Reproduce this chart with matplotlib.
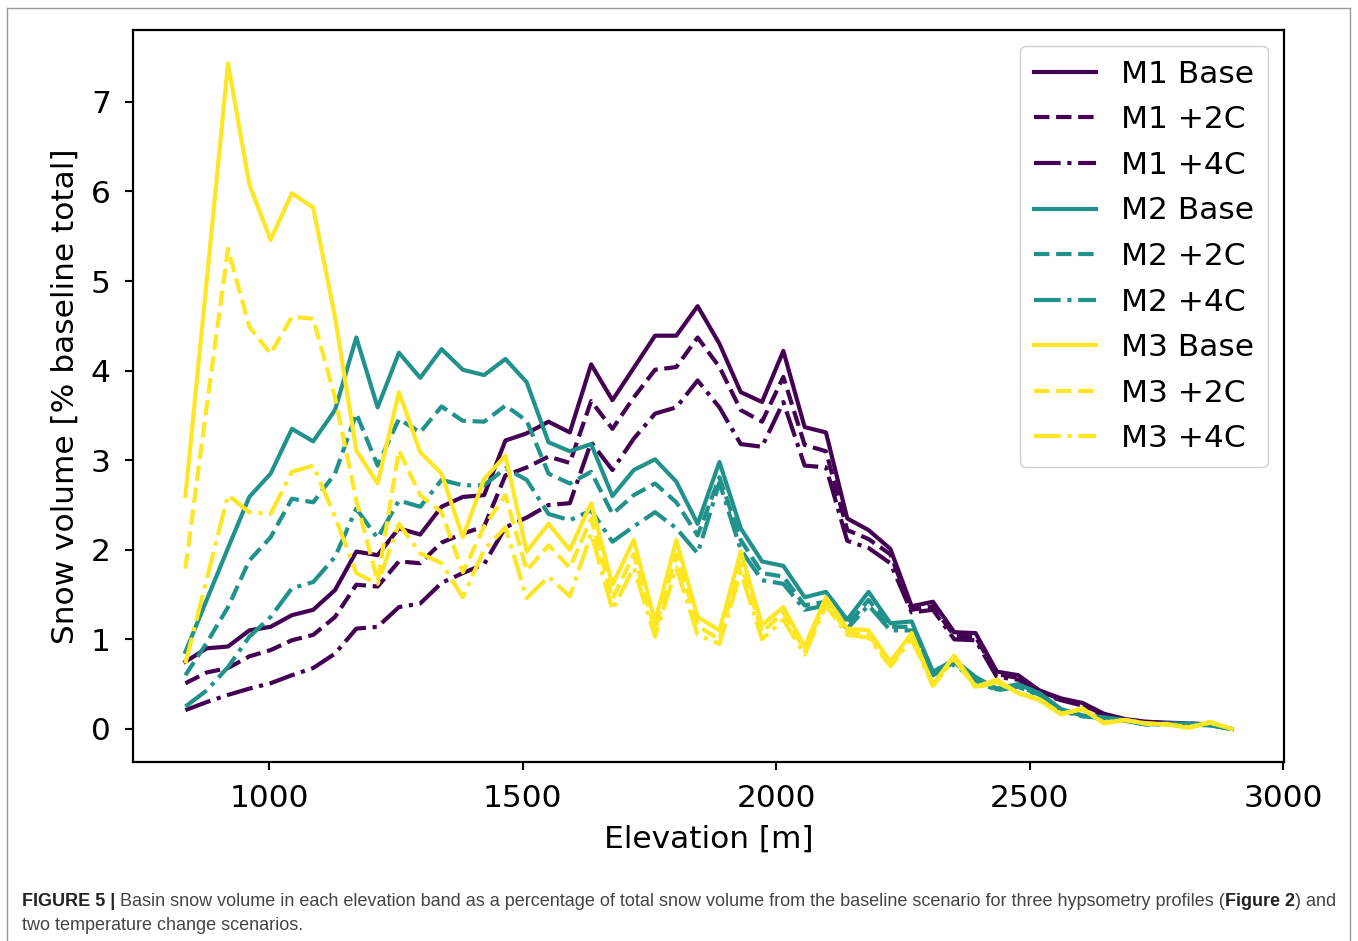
import matplotlib
matplotlib.use("Agg")
import matplotlib.pyplot as plt
from matplotlib.lines import Line2D

# elevation band centres [m]
elevation = [835, 877, 919, 961, 1003, 1045, 1087, 1130, 1172, 1214,
             1256, 1298, 1340, 1382, 1424, 1466, 1508, 1551, 1593, 1635,
             1677, 1719, 1761, 1803, 1845, 1888, 1930, 1972, 2014, 2056,
             2098, 2140, 2182, 2225, 2267, 2309, 2351, 2393, 2435, 2477,
             2519, 2562, 2604, 2646, 2688, 2730, 2772, 2814, 2856, 2898]

# snow volume [% of baseline total]
m1_base = [0.75, 0.90, 0.92, 1.10, 1.14, 1.27, 1.33, 1.55, 1.98, 1.94,
           2.24, 2.17, 2.48, 2.59, 2.61, 3.22, 3.30, 3.43, 3.31, 4.07,
           3.67, 4.03, 4.39, 4.39, 4.72, 4.30, 3.76, 3.65, 4.22, 3.37,
           3.31, 2.35, 2.22, 2.01, 1.37, 1.42, 1.08, 1.07, 0.64, 0.60,
           0.43, 0.34, 0.29, 0.17, 0.11, 0.08, 0.07, 0.06, 0.05, 0.00]
m1_p2 = [0.51, 0.63, 0.68, 0.81, 0.88, 0.99, 1.05, 1.25, 1.61, 1.59,
         1.87, 1.85, 2.08, 2.18, 2.26, 2.83, 2.92, 3.04, 2.97, 3.66,
         3.35, 3.70, 4.01, 4.04, 4.37, 4.04, 3.56, 3.43, 3.93, 3.17,
         3.10, 2.22, 2.12, 1.95, 1.33, 1.37, 1.04, 1.03, 0.61, 0.57,
         0.42, 0.33, 0.27, 0.16, 0.10, 0.08, 0.06, 0.06, 0.05, 0.00]
m1_p4 = [0.21, 0.30, 0.38, 0.45, 0.51, 0.60, 0.68, 0.84, 1.12, 1.14,
         1.36, 1.40, 1.63, 1.74, 1.84, 2.25, 2.36, 2.50, 2.52, 3.20,
         2.89, 3.24, 3.52, 3.59, 3.89, 3.59, 3.18, 3.15, 3.65, 2.94,
         2.92, 2.10, 2.02, 1.85, 1.30, 1.33, 1.00, 0.99, 0.58, 0.55,
         0.40, 0.32, 0.26, 0.15, 0.10, 0.07, 0.06, 0.05, 0.05, 0.00]
m2_base = [0.86, 1.44, 2.02, 2.59, 2.85, 3.35, 3.21, 3.56, 4.37, 3.59,
           4.20, 3.92, 4.24, 4.01, 3.95, 4.13, 3.87, 3.20, 3.10, 3.18,
           2.60, 2.89, 3.01, 2.76, 2.29, 2.98, 2.24, 1.87, 1.82, 1.47,
           1.53, 1.22, 1.53, 1.18, 1.20, 0.64, 0.77, 0.58, 0.45, 0.50,
           0.40, 0.22, 0.15, 0.13, 0.10, 0.05, 0.06, 0.06, 0.04, 0.00]
m2_p2 = [0.60, 0.96, 1.36, 1.88, 2.14, 2.57, 2.53, 2.85, 3.52, 2.94,
         3.46, 3.31, 3.60, 3.44, 3.43, 3.61, 3.44, 2.85, 2.74, 2.87,
         2.40, 2.61, 2.74, 2.53, 2.16, 2.81, 2.11, 1.74, 1.70, 1.38,
         1.42, 1.16, 1.44, 1.14, 1.14, 0.62, 0.74, 0.56, 0.44, 0.48,
         0.38, 0.21, 0.15, 0.12, 0.09, 0.05, 0.06, 0.05, 0.04, 0.00]
m2_p4 = [0.25, 0.43, 0.69, 1.03, 1.25, 1.57, 1.64, 1.92, 2.46, 2.13,
         2.55, 2.48, 2.78, 2.72, 2.72, 2.91, 2.78, 2.40, 2.33, 2.44,
         2.09, 2.26, 2.42, 2.24, 1.96, 2.75, 2.00, 1.66, 1.62, 1.33,
         1.38, 1.12, 1.38, 1.10, 1.10, 0.60, 0.72, 0.54, 0.43, 0.47,
         0.37, 0.20, 0.14, 0.12, 0.09, 0.05, 0.05, 0.05, 0.04, 0.00]
m3_base = [2.60, 5.00, 7.43, 6.08, 5.46, 5.98, 5.82, 4.60, 3.11, 2.74,
           3.76, 3.09, 2.85, 2.14, 2.79, 3.05, 1.98, 2.29, 2.00, 2.52,
           1.61, 2.11, 1.20, 2.11, 1.25, 1.10, 1.98, 1.16, 1.36, 0.92,
           1.47, 1.12, 1.10, 0.75, 1.07, 0.49, 0.82, 0.47, 0.55, 0.40,
           0.32, 0.16, 0.23, 0.06, 0.10, 0.06, 0.05, 0.01, 0.08, 0.00]
m3_p2 = [1.79, 3.60, 5.36, 4.49, 4.19, 4.60, 4.58, 3.70, 2.55, 1.65,
         3.11, 2.61, 2.42, 1.75, 2.26, 2.61, 1.77, 2.05, 1.80, 2.35,
         1.45, 1.95, 1.10, 1.95, 1.15, 1.00, 1.85, 1.08, 1.30, 0.88,
         1.42, 1.08, 1.05, 0.72, 1.03, 0.50, 0.80, 0.47, 0.53, 0.40,
         0.33, 0.17, 0.22, 0.07, 0.10, 0.06, 0.05, 0.02, 0.07, 0.00]
m3_p4 = [0.73, 1.67, 2.61, 2.42, 2.40, 2.87, 2.94, 2.37, 1.74, 1.62,
         2.29, 1.96, 1.85, 1.47, 2.00, 2.25, 1.46, 1.70, 1.48, 2.18,
         1.33, 1.80, 1.03, 1.80, 1.05, 0.95, 1.75, 1.00, 1.22, 0.83,
         1.38, 1.05, 1.02, 0.70, 1.00, 0.48, 0.78, 0.46, 0.52, 0.40,
         0.33, 0.17, 0.22, 0.07, 0.10, 0.06, 0.05, 0.02, 0.07, 0.00]

series = [("M1 Base", m1_base), ("M1 +2C", m1_p2), ("M1 +4C", m1_p4),
          ("M2 Base", m2_base), ("M2 +2C", m2_p2), ("M2 +4C", m2_p4),
          ("M3 Base", m3_base), ("M3 +2C", m3_p2), ("M3 +4C", m3_p4)]
colors = ["#440154", "#21918c", "#fde725"]
styles = ["-", "--", "-."]

caption = [("FIGURE 5 | ", "bold", "#222222"),
           ("Basin snow volume in each elevation band as a percentage of total snow "
            "volume from the baseline scenario for three hypsometry profiles (", "normal", "#444444"),
           ("Figure 2", "bold", "#222222"),
           (") and", "normal", "#444444")]
caption2 = "two temperature change scenarios."

fig = plt.figure(figsize=(13.58, 9.41), dpi=100)
ax = fig.add_axes([0.098, 0.19, 0.8475, 0.778])

for k, (label, vals) in enumerate(series):
    ax.plot(elevation, vals, color=colors[k // 3], ls=styles[k % 3], lw=3.0, label=label)

ax.set_xlabel("Elevation [m]", fontsize=22.5, labelpad=8)
ax.set_ylabel("Snow volume [% baseline total]", fontsize=22.5, labelpad=8)
ax.set_xticks([1000, 1500, 2000, 2500, 3000])
ax.set_yticks(range(8))
ax.tick_params(labelsize=22.5, width=1.5, length=6, pad=10)
for s in ax.spines.values():
    s.set_linewidth(1.6)
ax.legend(loc="upper right", fontsize=22.5, handlelength=2.0, labelspacing=0.53,
          borderpad=0.45, framealpha=0.9)

# caption, drawn piece by piece so bold parts sit inline
r = fig.canvas.get_renderer()
x0, y1 = 22 / 1358, 1 - 901 / 941
for txt, wt, col in caption:
    t = fig.text(x0, y1, txt, fontsize=13.0, weight=wt, color=col,
                 family="Liberation Sans", va="center")
    x0 += t.get_window_extent(r).width / 1358
fig.text(22 / 1358, 1 - 925 / 941, caption2, fontsize=13.0, color="#444444",
         family="Liberation Sans", va="center")

# thin frame round the figure
for xs, ys in [([0.005, 0.005], [0, 0.991]), ([0.005, 0.994], [0.991, 0.991]),
               ([0.994, 0.994], [0, 0.991])]:
    fig.add_artist(Line2D(xs, ys, color="#999999", lw=1.0, transform=fig.transFigure))

fig.savefig("out.png", dpi=100)
